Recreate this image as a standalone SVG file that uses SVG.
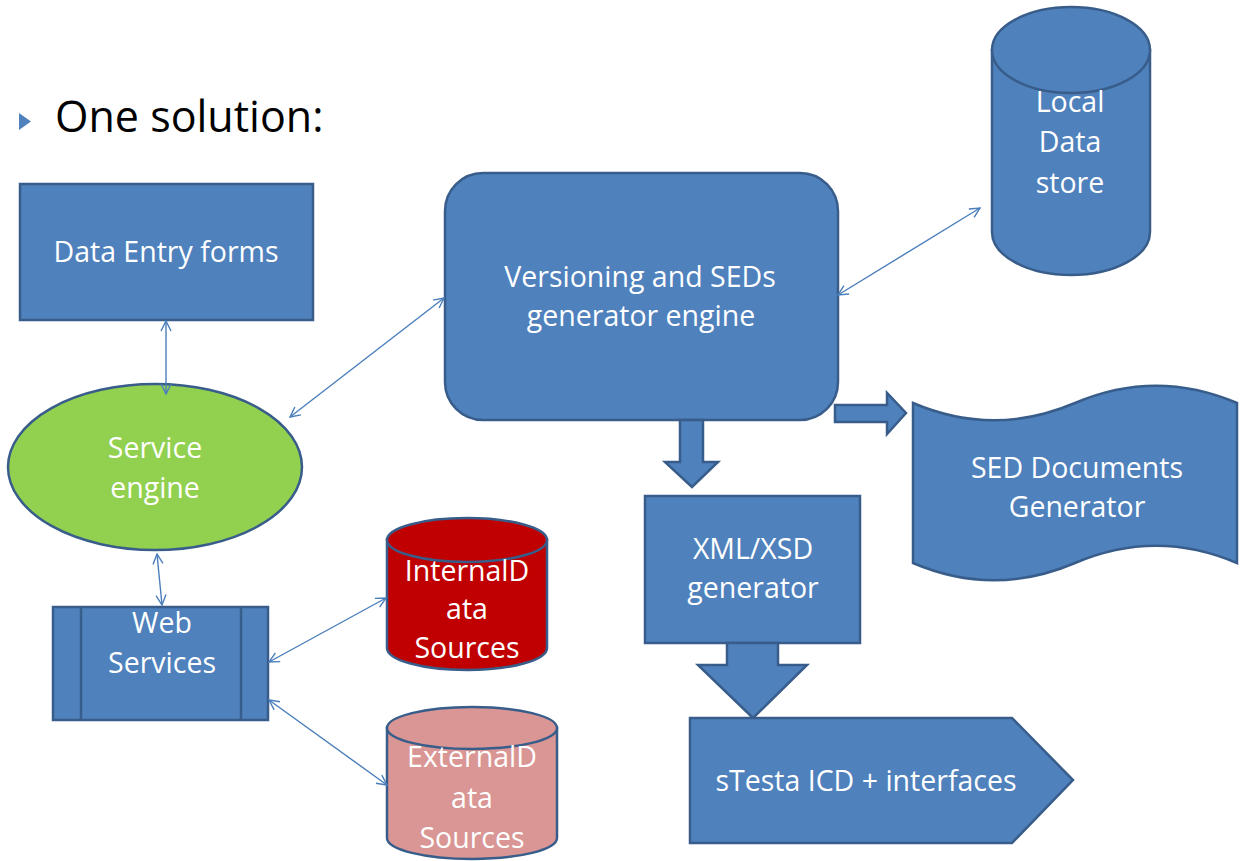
<svg xmlns="http://www.w3.org/2000/svg" width="1240" height="861" viewBox="0 0 1240 861">
<style>
.shape{fill:#4F81BD;stroke:#385D8A;stroke-width:2.5}
.lbl{font-family:"Open Sans","Liberation Sans",sans-serif;font-size:28.5px;fill:#FFFFFF;text-anchor:middle}
.conn{fill:none;stroke:#4A7EBB;stroke-width:1.4}
</style>
<defs>
<marker id="open" viewBox="0 0 12 12" refX="11" refY="6" markerWidth="12" markerHeight="12" markerUnits="userSpaceOnUse" orient="auto-start-reverse">
<path d="M1,1 L11,6 L1,11" fill="none" stroke="#4A7EBB" stroke-width="1.4"/>
</marker>
</defs>
<rect width="1240" height="861" fill="#FFFFFF"/>
<g id="title">
<polygon points="19,113 31,121.5 19,130" fill="#4F81BD"/>
<text x="55" y="132" font-family="'Open Sans','Liberation Sans',sans-serif" font-size="43" fill="#000000">One solution:</text>
</g>
<g id="data-entry-forms">
<rect class="shape" x="20" y="184" width="293" height="136"/>
<text class="lbl" x="166" y="262">Data Entry forms</text>
</g>
<g id="service-engine">
<ellipse cx="155" cy="467" rx="147" ry="83" fill="#92D050" stroke="#385D8A" stroke-width="2.5"/>
<text class="lbl" x="155" y="458">Service</text>
<text class="lbl" x="155" y="498">engine</text>
</g>
<g id="versioning-engine">
<rect class="shape" x="445" y="173" width="393" height="247" rx="38" ry="38"/>
<text class="lbl" x="640" y="287">Versioning and SEDs</text>
<text class="lbl" x="641" y="326">generator engine</text>
</g>
<g id="local-data-store">
<path class="shape" d="M992,50 L992,232 A79,43 0 0 0 1150,232 L1150,50 Z"/>
<ellipse class="shape" cx="1071" cy="50" rx="79" ry="43"/>
<text class="lbl" x="1070" y="112">Local</text>
<text class="lbl" x="1070" y="152">Data</text>
<text class="lbl" x="1070" y="193">store</text>
</g>
<g id="arrow-down-1">
<polygon class="shape" points="680,420 703,420 703,462 718,462 692,487 665,462 680,462"/>
</g>
<g id="arrow-right">
<polygon class="shape" points="835,405 887,405 887,393 906,413 887,434 887,422 835,422"/>
</g>
<g id="sed-documents-generator">
<path class="shape" d="M913,403 C967,426 1021,426 1075,403 C1129,380 1183,380 1237,403 L1237,563 C1183,540 1129,540 1075,563 C1021,586 967,586 913,563 Z"/>
<text class="lbl" x="1077" y="478">SED Documents</text>
<text class="lbl" x="1077" y="517">Generator</text>
</g>
<g id="xml-xsd-generator">
<rect class="shape" x="645" y="496" width="215" height="147"/>
<text class="lbl" x="753" y="559">XML/XSD</text>
<text class="lbl" x="753" y="598">generator</text>
</g>
<g id="arrow-down-2">
<polygon class="shape" points="727,643 778,643 778,665 807,665 753,718 698,665 727,665"/>
</g>
<g id="stesta">
<polygon class="shape" points="690,718 1012,718 1073,780 1012,843 690,843"/>
<text class="lbl" x="866" y="791">sTesta ICD + interfaces</text>
</g>
<g id="web-services">
<rect class="shape" x="53" y="607" width="215" height="113"/>
<line x1="81" y1="607" x2="81" y2="720" stroke="#385D8A" stroke-width="2.5"/>
<line x1="241" y1="607" x2="241" y2="720" stroke="#385D8A" stroke-width="2.5"/>
<text class="lbl" x="162" y="633">Web</text>
<text class="lbl" x="162" y="673">Services</text>
</g>
<g id="internal-data-sources">
<path d="M387,540 L387,648 A80,22 0 0 0 547,648 L547,540 Z" fill="#C00000" stroke="#385D8A" stroke-width="2.5"/>
<ellipse cx="467" cy="540" rx="80" ry="22" fill="#C00000" stroke="#385D8A" stroke-width="2.5"/>
<text class="lbl" x="467" y="581">InternalD</text>
<text class="lbl" x="467" y="619">ata</text>
<text class="lbl" x="467" y="658">Sources</text>
</g>
<g id="external-data-sources">
<path d="M387,728 L387,838 A85,21 0 0 0 557,838 L557,728 Z" fill="#D99694" stroke="#385D8A" stroke-width="2.5"/>
<ellipse cx="472" cy="728" rx="85" ry="21" fill="#D99694" stroke="#385D8A" stroke-width="2.5"/>
<text class="lbl" x="472" y="767">ExternalD</text>
<text class="lbl" x="472" y="808">ata</text>
<text class="lbl" x="472" y="848">Sources</text>
</g>
<g id="connectors">
<line class="conn" x1="166" y1="321" x2="166" y2="394" marker-start="url(#open)" marker-end="url(#open)"/>
<line class="conn" x1="290" y1="417" x2="444" y2="298" marker-start="url(#open)" marker-end="url(#open)"/>
<line class="conn" x1="838" y1="295" x2="980" y2="208" marker-start="url(#open)" marker-end="url(#open)"/>
<line class="conn" x1="157" y1="554" x2="162" y2="605" marker-start="url(#open)" marker-end="url(#open)"/>
<line class="conn" x1="269" y1="662" x2="386" y2="598" marker-start="url(#open)" marker-end="url(#open)"/>
<line class="conn" x1="269" y1="700" x2="387" y2="785" marker-start="url(#open)" marker-end="url(#open)"/>
</g>
</svg>
